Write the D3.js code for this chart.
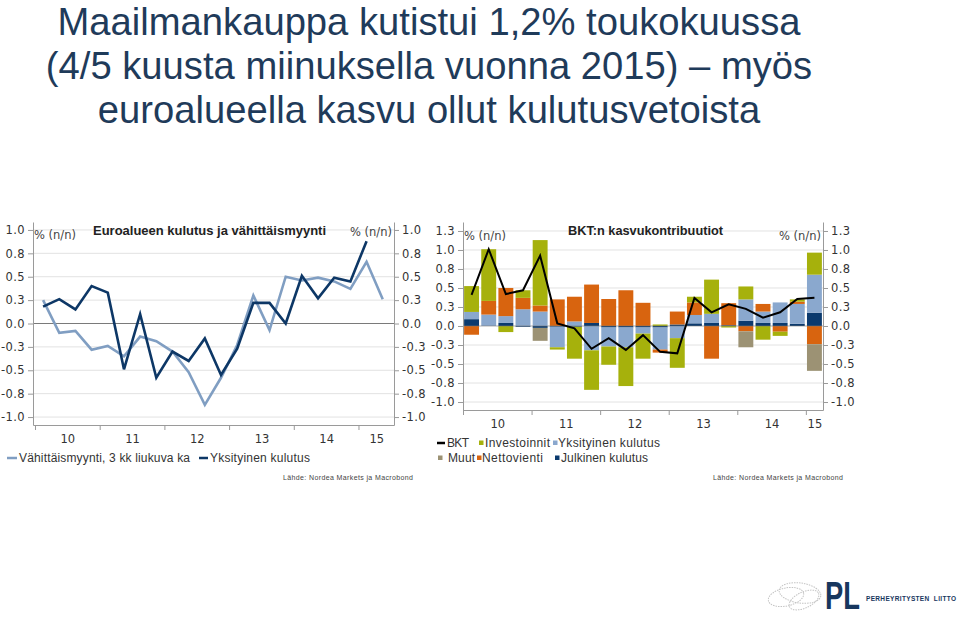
<!DOCTYPE html>
<html><head><meta charset="utf-8">
<script src="https://cdn.jsdelivr.net/npm/d3@7"></script>
<style>
body{margin:0;background:#fff;}
svg{display:block;}
</style></head><body>
<svg id="c" width="959" height="617"></svg>
<script>
// ---------- DATA ----------
const titleLines = [
  "Maailmankauppa kutistui 1,2% toukokuussa",
  "(4/5 kuusta miinuksella vuonna 2015) \u2013 myös",
  "euroalueella kasvu ollut kulutusvetoista"
];

// Left chart: Euroalueen kulutus ja vähittäismyynti
const leftTitle = "Euroalueen kulutus ja vähittäismyynti";
const unitLabel = "% (n/n)";
const retailQuarters = ["2010Q1","2010Q2","2010Q3","2010Q4","2011Q1","2011Q2","2011Q3","2011Q4",
  "2012Q1","2012Q2","2012Q3","2012Q4","2013Q1","2013Q2","2013Q3","2013Q4",
  "2014Q1","2014Q2","2014Q3","2014Q4","2015Q1","2015Q2"];
const retailSales = [0.25,-0.10,-0.08,-0.28,-0.24,-0.35,-0.14,-0.19,-0.30,-0.52,-0.87,-0.58,
  -0.23,0.30,-0.07,0.50,0.46,0.49,0.45,0.37,0.66,0.26];
const consumptionQuarters = retailQuarters.slice(0, 21);
const privateConsumption = [0.18,0.26,0.15,0.40,0.33,-0.49,0.10,-0.58,-0.30,-0.40,-0.16,-0.55,
  -0.27,0.22,0.22,0.00,0.51,0.27,0.49,0.45,0.88];
const leftLegend = ["Vähittäismyynti, 3 kk liukuva ka", "Yksityinen kulutus"];

const leftTickValues = [-1,-0.75,-0.5,-0.25,0,0.25,0.5,0.75,1];
const leftTickLabels = ["-1.0","-0.8","-0.5","-0.3","0.0","0.3","0.5","0.8","1.0"];
const yearTicks = [2010,2011,2012,2013,2014,2015];
const yearLabels = ["10","11","12","13","14","15"];

// Right chart: BKT:n kasvukontribuutiot
const rightTitle = "BKT:n kasvukontribuutiot";
const gdpQuarters = retailQuarters.slice(0, 21);
const bkt          = [0.41,1.01,0.42,0.47,0.925,0.035,-0.03,-0.30,-0.16,-0.315,-0.12,-0.34,-0.36,0.37,0.18,0.285,0.225,0.11,0.18,0.355,0.37];
const julkinen     = [0.09,0.00,0.04,-0.01,-0.025,-0.01,-0.01,0.04,-0.02,-0.02,-0.02,-0.02,0.02,0.035,0.04,0.01,0.07,0.04,0.04,0.03,0.175];
const yksityinen   = [0.095,0.15,0.09,0.22,0.19,-0.27,0.06,-0.32,-0.25,-0.26,-0.08,-0.29,-0.16,0.11,0.12,0.00,0.28,0.15,0.27,0.26,0.50];
const nettovienti  = [-0.115,0.18,0.37,0.15,0.08,0.35,0.325,0.505,0.355,0.47,0.305,-0.04,0.17,0.165,-0.43,0.29,-0.07,0.10,-0.075,0.03,-0.24];
const investoinnit = [0.34,0.68,-0.08,0.10,0.86,-0.03,-0.42,-0.52,-0.24,-0.51,-0.33,0.02,-0.39,0.075,0.45,-0.02,0.17,-0.18,-0.055,0.03,0.29];
const muut         = [0,0,0,0,-0.17,0,0,0,0,0,0,0,0,0,0,0,-0.21,0,0,0,-0.35];
const rightTickValues = [-1,-0.75,-0.5,-0.25,0,0.25,0.5,0.75,1,1.25];
const rightTickLabels = ["-1.0","-0.8","-0.5","-0.3","0.0","0.3","0.5","0.8","1.0","1.3"];
const sourceText = "Lähde: Nordea Markets ja Macrobond";
const logoText = ["PL", "PERHEYRITYSTEN  LIITTO"];

// ---------- STYLE ----------
const C = {
  title: "#1F3B5A",
  retail: "#809EC2",
  cons: "#0D3766",
  bkt: "#000000",
  Julkinen: "#0B3A6E",
  Yksityinen: "#8AA8CE",
  Nettovienti: "#D8640F",
  Investoinnit: "#A6B10C",
  Muut: "#9C9274",
  grid: "#E2E2E2",
  zero: "#7A7A7A",
  axis: "#9A9A9A",
  text: "#333"
};
const tickFont = "'DejaVu Sans', Verdana, sans-serif";
const legFont = "'Liberation Sans', Arial, sans-serif";

const svg = d3.select("#c");

// ---------- MAIN TITLE ----------
svg.append("g").selectAll("text").data(titleLines).join("text")
  .attr("x", 429).attr("y", (d, i) => 34.5 + i * 44.2)
  .attr("text-anchor", "middle")
  .attr("font-family", legFont).attr("font-size", 38.2)
  .attr("fill", C.title).text(d => d);

function qToYear(q) { return +q.slice(0,4) + (+q.slice(5) - 1) / 4 + 0.125; }

// ---------- LEFT CHART ----------
(function(){
  const L = 33, R = 394, T = 222, B = 425;
  const x = d3.scaleLinear().domain([2009.969, 2015.549]).range([L, R]);
  const y = d3.scaleLinear().domain([-1.085, 1.085]).range([B, T]);
  const g = svg.append("g");

  g.append("g").selectAll("line").data(leftTickValues.filter(v => v !== 0)).join("line")
    .attr("x1", L).attr("x2", R).attr("y1", d => y(d)).attr("y2", d => y(d))
    .attr("stroke", C.grid).attr("stroke-width", 1);
  g.append("line").attr("x1", L).attr("x2", R).attr("y1", y(0)).attr("y2", y(0))
    .attr("stroke", C.zero).attr("stroke-width", 1.2);

  const fmt = (d) => leftTickLabels[leftTickValues.indexOf(d)];
  const ax1 = g.append("g").attr("transform", `translate(${L},0)`)
    .call(d3.axisLeft(y).tickValues(leftTickValues).tickFormat(fmt).tickSize(5).tickSizeOuter(0));
  const ax2 = g.append("g").attr("transform", `translate(${R},0)`)
    .call(d3.axisRight(y).tickValues(leftTickValues).tickFormat(fmt).tickSize(5).tickSizeOuter(0));
  const ax3 = g.append("g").attr("transform", `translate(0,${B})`)
    .call(d3.axisBottom(x).tickValues(yearTicks).tickFormat("").tickSize(5).tickSizeOuter(0));
  const mids = yearTicks.map(v => Math.min(v + 0.5, (v + x.domain()[1]) / 2));
  const ax4 = g.append("g").attr("transform", `translate(0,${B})`)
    .call(d3.axisBottom(x).tickValues(mids).tickFormat((d,i) => yearLabels[i]).tickSize(0).tickPadding(10));
  ax4.select(".domain").remove();
  [ax1, ax2, ax3, ax4].forEach(a => {
    a.selectAll(".domain, .tick line").attr("stroke", C.axis);
    a.selectAll("text").attr("font-family", tickFont).attr("font-size", 11.5).attr("fill", C.text);
  });
  ax1.selectAll("text").attr("letter-spacing", 0.4);
  ax2.selectAll("text").attr("letter-spacing", 0.4);

  const line = d3.line().x(d => x(qToYear(d.q))).y(d => y(d.v));
  g.append("path").datum(retailQuarters.map((q,i) => ({q, v: retailSales[i]})))
    .attr("d", line).attr("fill", "none").attr("stroke", C.retail).attr("stroke-width", 2.6)
    .attr("stroke-linejoin", "miter");
  g.append("path").datum(consumptionQuarters.map((q,i) => ({q, v: privateConsumption[i]})))
    .attr("d", line).attr("fill", "none").attr("stroke", C.cons).attr("stroke-width", 2.6);

  g.append("text").attr("x", 93).attr("y", 235).attr("font-family", legFont).attr("font-weight", "bold")
    .attr("font-size", 12.5).attr("textLength", 233).attr("lengthAdjust", "spacingAndGlyphs")
    .attr("fill", "#222").text(leftTitle);
  g.append("text").attr("x", 34).attr("y", 239).attr("font-family", tickFont).attr("font-size", 11.5)
    .attr("fill", "#444").text(unitLabel);
  g.append("text").attr("x", 392).attr("y", 236).attr("text-anchor", "end").attr("font-family", tickFont)
    .attr("font-size", 11.5).attr("fill", "#444").text(unitLabel);

  // legend
  const lg = g.append("g");
  lg.append("line").attr("x1", 7).attr("x2", 17).attr("y1", 458).attr("y2", 458).attr("stroke", C.retail).attr("stroke-width", 2.5);
  lg.append("text").attr("x", 19).attr("y", 462).attr("font-family", legFont).attr("font-size", 12)
    .attr("textLength", 171).attr("lengthAdjust", "spacing").attr("fill", C.text).text(leftLegend[0]);
  lg.append("line").attr("x1", 199).attr("x2", 208).attr("y1", 458).attr("y2", 458).attr("stroke", C.cons).attr("stroke-width", 2.5);
  lg.append("text").attr("x", 210).attr("y", 462).attr("font-family", legFont).attr("font-size", 12)
    .attr("textLength", 100).attr("lengthAdjust", "spacing").attr("fill", C.text).text(leftLegend[1]);
  g.append("text").attr("x", 283).attr("y", 480).attr("font-family", legFont).attr("font-size", 7)
    .attr("textLength", 130).attr("lengthAdjust", "spacing").attr("fill", "#444").text(sourceText);
})();

// ---------- RIGHT CHART ----------
(function(){
  const L = 463, R = 823, T = 222, B = 410;
  const y = d3.scaleLinear().domain([-1.105, 1.368]).range([B, T]);
  const xb = d3.scaleBand().domain(gdpQuarters).range([L, R]).paddingInner(0.13).paddingOuter(0.065);
  const xy = d3.scaleLinear().domain([2010, 2010 + gdpQuarters.length / 4]).range([L, R]);
  const g = svg.append("g");

  g.append("g").selectAll("line").data(rightTickValues.filter(v => v !== 0)).join("line")
    .attr("x1", L).attr("x2", R).attr("y1", d => y(d)).attr("y2", d => y(d))
    .attr("stroke", C.grid).attr("stroke-width", 1);

  const keys = ["Julkinen", "Yksityinen", "Nettovienti", "Investoinnit", "Muut"];
  const src = {Julkinen: julkinen, Yksityinen: yksityinen, Nettovienti: nettovienti, Investoinnit: investoinnit, Muut: muut};
  const rows = gdpQuarters.map((q, i) => {
    const r = {q};
    keys.forEach(k => r[k] = src[k][i]);
    return r;
  });
  const series = d3.stack().keys(keys).offset(d3.stackOffsetDiverging)(rows);
  g.append("g").selectAll("g").data(series).join("g").attr("fill", s => C[s.key])
    .selectAll("rect").data(s => s).join("rect")
      .attr("x", d => xb(d.data.q)).attr("width", xb.bandwidth())
      .attr("y", d => y(Math.max(d[0], d[1])))
      .attr("height", d => Math.abs(y(d[0]) - y(d[1])));

  g.append("line").attr("x1", L).attr("x2", R).attr("y1", y(0)).attr("y2", y(0))
    .attr("stroke", C.zero).attr("stroke-width", 1).attr("opacity", 0.6);

  const fmt = (d) => rightTickLabels[rightTickValues.indexOf(d)];
  const ax1 = g.append("g").attr("transform", `translate(${L},0)`)
    .call(d3.axisLeft(y).tickValues(rightTickValues).tickFormat(fmt).tickSize(5).tickSizeOuter(0));
  const ax2 = g.append("g").attr("transform", `translate(${R},0)`)
    .call(d3.axisRight(y).tickValues(rightTickValues).tickFormat(fmt).tickSize(5).tickSizeOuter(0));
  const ax3 = g.append("g").attr("transform", `translate(0,${B})`)
    .call(d3.axisBottom(xy).tickValues(yearTicks).tickFormat("").tickSize(5).tickSizeOuter(0));
  const end = xy.domain()[1];
  const mids = yearTicks.map(v => Math.min(v + 0.5, (v + end) / 2));
  const ax4 = g.append("g").attr("transform", `translate(0,${B})`)
    .call(d3.axisBottom(xy).tickValues(mids).tickFormat((d,i) => yearLabels[i]).tickSize(0).tickPadding(10));
  ax4.select(".domain").remove();
  [ax1, ax2, ax3, ax4].forEach(a => {
    a.selectAll(".domain, .tick line").attr("stroke", C.axis);
    a.selectAll("text").attr("font-family", tickFont).attr("font-size", 11.5).attr("fill", C.text);
  });
  ax1.selectAll("text").attr("letter-spacing", 0.4);
  ax2.selectAll("text").attr("letter-spacing", 0.4);

  const line = d3.line().x((d) => xb(d.q) + xb.bandwidth() / 2).y(d => y(d.v));
  g.append("path").datum(gdpQuarters.map((q, i) => ({q, v: bkt[i]})))
    .attr("d", line).attr("fill", "none").attr("stroke", C.bkt).attr("stroke-width", 2);

  g.append("text").attr("x", 568).attr("y", 235).attr("font-family", legFont).attr("font-weight", "bold")
    .attr("font-size", 12.5).attr("textLength", 155).attr("lengthAdjust", "spacingAndGlyphs")
    .attr("fill", "#222").text(rightTitle);
  g.append("text").attr("x", 464).attr("y", 240).attr("font-family", tickFont).attr("font-size", 11.5)
    .attr("fill", "#444").text(unitLabel);
  g.append("text").attr("x", 821).attr("y", 240).attr("text-anchor", "end").attr("font-family", tickFont)
    .attr("font-size", 11.5).attr("fill", "#444").text(unitLabel);

  // legend
  const items = [
    {k: "BKT", c: C.bkt, line: true, x: 437, tx: 447, w: 22, row: 0},
    {k: "Investoinnit", c: C.Investoinnit, x: 479, tx: 485, w: 65, row: 0},
    {k: "Yksityinen kulutus", c: C.Yksityinen, x: 553, tx: 558, w: 102, row: 0},
    {k: "Muut", c: C.Muut, x: 438, tx: 448, w: 27, row: 1},
    {k: "Nettovienti", c: C.Nettovienti, x: 477, tx: 482, w: 61, row: 1},
    {k: "Julkinen kulutus", c: C.Julkinen, x: 555, tx: 561, w: 87, row: 1}
  ];
  const lg = g.append("g");
  items.forEach(it => {
    const cy = it.row ? 458 : 443;
    if (it.line) lg.append("line").attr("x1", it.x).attr("x2", it.x + 8).attr("y1", cy).attr("y2", cy)
      .attr("stroke", it.c).attr("stroke-width", 2.5);
    else lg.append("rect").attr("x", it.x).attr("y", cy - 2.5).attr("width", 4.5).attr("height", 4.5).attr("fill", it.c);
    lg.append("text").attr("x", it.tx).attr("y", cy + 4).attr("font-family", legFont).attr("font-size", 12)
      .attr("textLength", it.w).attr("lengthAdjust", "spacing").attr("fill", C.text).text(it.k);
  });
  g.append("text").attr("x", 713).attr("y", 480).attr("font-family", legFont).attr("font-size", 7)
    .attr("textLength", 130).attr("lengthAdjust", "spacing").attr("fill", "#444").text(sourceText);
})();

// ---------- LOGO ----------
(function(){
  const g = svg.append("g");
  const ell = [
    {cx: 786, cy: 597, rx: 18, ry: 9, r: -12},
    {cx: 800, cy: 593, rx: 21, ry: 10, r: 8},
    {cx: 804, cy: 600, rx: 16, ry: 8, r: -25}
  ];
  g.selectAll("ellipse").data(ell).join("ellipse")
    .attr("cx", d => d.cx).attr("cy", d => d.cy).attr("rx", d => d.rx).attr("ry", d => d.ry)
    .attr("transform", d => `rotate(${d.r},${d.cx},${d.cy})`)
    .attr("fill", "none").attr("stroke", "#C4C4C4").attr("stroke-width", 1).attr("stroke-dasharray", "1.5,1");
  g.append("text").attr("transform", "translate(825,608.5) scale(0.72,1)")
    .attr("font-family", legFont).attr("font-weight", "bold")
    .attr("font-size", 38).attr("fill", "#17375E").text(logoText[0]);
  g.append("text").attr("x", 866).attr("y", 601).attr("font-family", legFont).attr("font-weight", "bold")
    .attr("font-size", 6.5).attr("textLength", 90).attr("lengthAdjust", "spacing")
    .attr("fill", "#17375E").attr("xml:space", "preserve").text(logoText[1]);
})();
</script>
</body></html>
